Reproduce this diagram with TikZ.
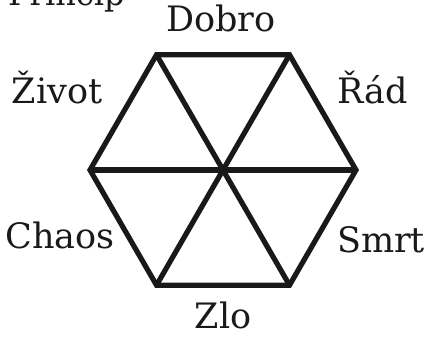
\documentclass[tikz,border=0pt]{standalone}
\usepackage{fontspec}
\setmainfont{DejaVu Serif}
\usetikzlibrary{calc}
\begin{document}
\begin{tikzpicture}[x=1pt,y=1pt,
  edge/.style={line width=5.2pt, line join=miter, black!90},
  lbl/.style={inner sep=0pt, anchor=base, font=\fontsize{35}{38}\selectfont, text=black!90}]
\clip (0,0) rectangle (427,338);
\coordinate (O) at (223,168);
\foreach \i/\a in {r/0, tr/60, tl/120, l/180, bl/240, br/300}
  \coordinate (\i) at ($(O)+(\a:133)$);
\draw[edge] (r) -- (tr) -- (tl) -- (l) -- (bl) -- (br) -- cycle;
\draw[edge] (r) -- (l);
\draw[edge] (tr) -- (bl);
\draw[edge] (tl) -- (br);
\node[lbl, anchor=base west, font=\fontsize{32}{34}\selectfont] (title) at (8,332) {Princip};
\node[lbl] (dobro) at (221,306) {Dobro};
\node[lbl] (rad) at (373,235) {Řád};
\node[lbl] (zivot) at (57,235) {Život};
\node[lbl] (chaos) at (60,90) {Chaos};
\node[lbl] (smrt) at (381,86) {Smrt};
\node[lbl] (zlo) at (223,10) {Zlo};
\end{tikzpicture}
\end{document}
